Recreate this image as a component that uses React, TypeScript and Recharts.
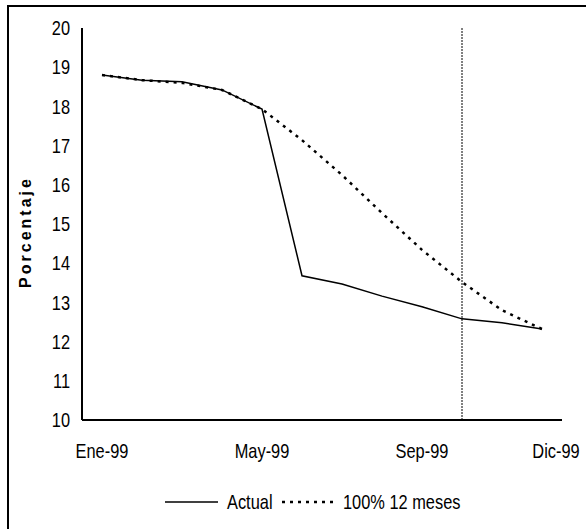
import React from 'react';
import { LineChart, Line, XAxis, YAxis, ReferenceLine, Legend } from 'recharts';

const months = ['Ene-99', 'Feb-99', 'Mar-99', 'Abr-99', 'May-99', 'Jun-99', 'Jul-99', 'Ago-99', 'Sep-99', 'Oct-99', 'Nov-99', 'Dic-99'];
const actual = [18.8, 18.67, 18.63, 18.42, 17.93, 13.68, 13.47, 13.16, 12.89, 12.58, 12.48, 12.32];
const escenario = [18.8, 18.67, 18.6, 18.42, 17.93, 17.14, 16.25, 15.28, 14.34, 13.52, 12.8, 12.32];
const xTicks = ['Ene-99', 'May-99', 'Sep-99', 'Dic-99'];
const yTicks = [10, 11, 12, 13, 14, 15, 16, 17, 18, 19, 20];
const markerMonth = 'Oct-99';
const seriesNames = ['Actual', '100% 12 meses'];

const data = months.map((m, i) => ({ month: m, actual: actual[i], escenario: escenario[i] }));

const FONT = "Liberation Sans, Arial, sans-serif";
const SX = 0.82;

const NarrowText = ({ x, y, anchor, size, dy, children }: any) => (
  <text
    transform={`translate(${x},${y}) scale(${SX},1)`}
    x={0}
    y={0}
    dy={dy}
    textAnchor={anchor}
    fontFamily={FONT}
    fontSize={size}
    fill="#000"
  >
    {children}
  </text>
);

const XTick = (props: any) => {
  const { x, y, payload } = props;
  const shift = payload.value === 'Dic-99' ? 14 : 0;
  return (
    <NarrowText x={x + shift} y={y} dy="0.71em" anchor="middle" size={20}>
      {payload.value}
    </NarrowText>
  );
};

const YTick = (props: any) => {
  const { x, y, payload } = props;
  return (
    <NarrowText x={x} y={y} dy="0.355em" anchor="end" size={20}>
      {payload.value}
    </NarrowText>
  );
};

const LegendContent = () => (
  <svg width={586} height={30} style={{ display: 'block' }}>
    <line x1={165} y1={15} x2={218} y2={15} stroke="#000" strokeWidth={1.5} />
    <NarrowText x={227} y={15} dy="0.355em" anchor="start" size={20}>{seriesNames[0]}</NarrowText>
    <line x1={282} y1={15} x2={338} y2={15} stroke="#000" strokeWidth={2.5} strokeDasharray="3 5" />
    <NarrowText x={343} y={15} dy="0.355em" anchor="start" size={20}>{seriesNames[1]}</NarrowText>
  </svg>
);

const YLabel = () => (
  <text
    transform="translate(31,232) rotate(-90)"
    textAnchor="middle"
    fontFamily={FONT}
    fontWeight="bold"
    fontSize={16}
    letterSpacing={3}
    fill="#000"
  >
    Porcentaje
  </text>
);

export default function App() {
  return (
    <div style={{ position: 'absolute', left: 0, top: 0, width: 586, height: 529, overflow: 'hidden', background: '#fff' }}>
      <div
        style={{
          position: 'absolute',
          left: 7,
          top: 5,
          width: 640,
          height: 640,
          borderTop: '2px solid #000',
          borderLeft: '2px solid #000',
          boxSizing: 'border-box',
        }}
      />
      <div style={{ position: 'absolute', left: 0, top: 0 }}>
        <LineChart width={586} height={529} data={data} margin={{ top: 28, right: 24, bottom: 0, left: 0 }}>
          <XAxis
            dataKey="month"
            ticks={xTicks}
            interval={0}
            padding={{ left: 20, right: 20 }}
            tickLine={false}
            tickSize={0}
            tickMargin={24}
            height={79}
            axisLine={{ stroke: '#000', strokeWidth: 2 }}
            tick={<XTick />}
          />
          <YAxis
            domain={[10, 20]}
            ticks={yTicks}
            interval={0}
            width={82}
            tickLine={false}
            tickSize={0}
            tickMargin={12}
            axisLine={{ stroke: '#000', strokeWidth: 2 }}
            tick={<YTick />}
            label={{ content: () => <YLabel /> }}
          />
          <ReferenceLine x={markerMonth} stroke="#000" strokeWidth={1} strokeDasharray="2 1" />
          <Line
            type="linear"
            dataKey="actual"
            name={seriesNames[0]}
            stroke="#000"
            strokeWidth={1.5}
            dot={false}
            isAnimationActive={false}
          />
          <Line
            type="linear"
            dataKey="escenario"
            name={seriesNames[1]}
            stroke="#000"
            strokeWidth={2.5}
            strokeDasharray="3 5"
            dot={false}
            isAnimationActive={false}
          />
          <Legend
            content={<LegendContent />}
            wrapperStyle={{ position: 'absolute', left: 0, top: 487, width: 586, height: 30 }}
          />
        </LineChart>
      </div>
    </div>
  );
}
